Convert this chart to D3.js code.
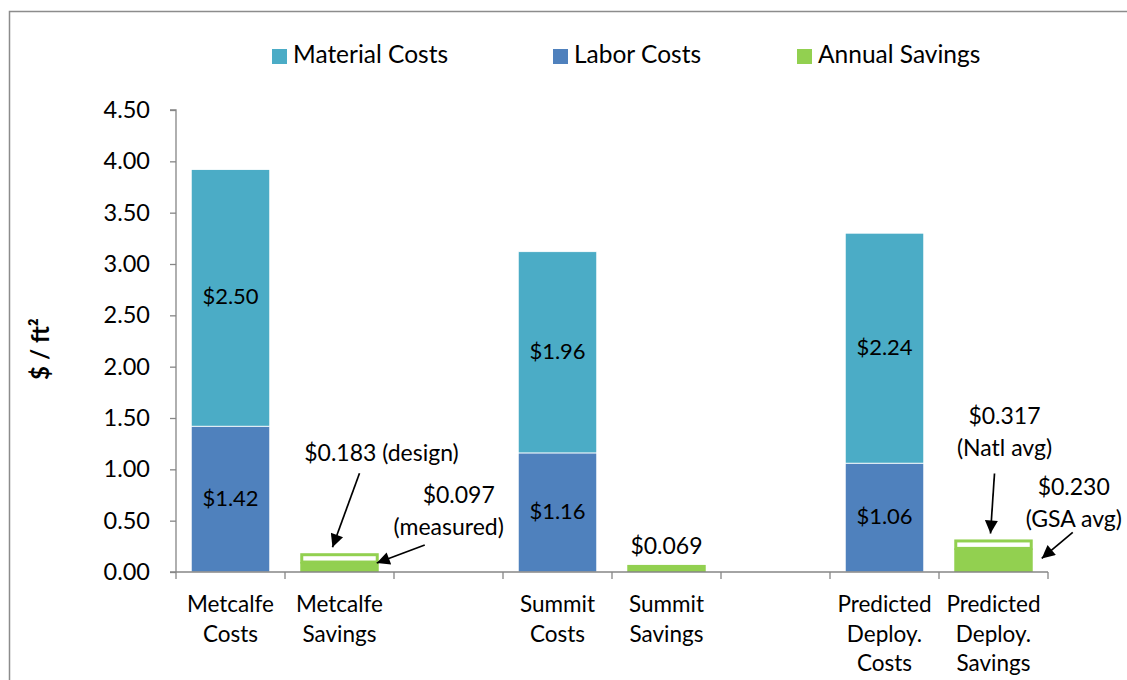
<!DOCTYPE html>
<html>
<head>
<meta charset="utf-8">
<script src="https://cdn.jsdelivr.net/npm/d3@7"></script>
<style>
  html, body { margin: 0; padding: 0; background: #fff; }
  svg { display: block; }
  text { font-family: Lato, "Open Sans", sans-serif; fill: #000; }
</style>
</head>
<body>
<svg id="chart" width="1127" height="680"></svg>
<script>
// Category slots along the x axis (empty slots separate the three sites)
const slots = ["metcalfeCosts", "metcalfeSavings", "gap1", "summitCosts", "summitSavings", "gap2", "predictedCosts", "predictedSavings"];
const slotLabels = [["Metcalfe", "Costs"], ["Metcalfe", "Savings"], [], ["Summit", "Costs"], ["Summit", "Savings"], [], ["Predicted", "Deploy.", "Costs"], ["Predicted", "Deploy.", "Savings"]];

// Installed cost, $ / ft²
const costSlots = ["metcalfeCosts", "summitCosts", "predictedCosts"];
const laborCosts = [1.42, 1.16, 1.06];
const materialCosts = [2.50, 1.96, 2.24];

// Annual savings, $ / ft²
const savingsSlots = ["metcalfeSavings", "summitSavings", "predictedSavings"];
const annualSavings = [0.097, 0.069, 0.230];
const upperSavings = [0.183, null, 0.317];

const yTicks = [0, 0.5, 1.0, 1.5, 2.0, 2.5, 3.0, 3.5, 4.0, 4.5];
const legendItems = ["Material Costs", "Labor Costs", "Annual Savings"];

const colors = { material: "#4BACC6", labor: "#4F81BD", savings: "#92D050", axis: "#868686" };

const svg = d3.select("#chart");

// chart frame
svg.append("rect")
  .attr("x", 9.5).attr("y", 11.5).attr("width", 1140).attr("height", 700)
  .attr("fill", "none").attr("stroke", "#8c8c8c").attr("stroke-width", 1.5);

const plot = { left: 176, right: 1048, top: 110, bottom: 572 };

const x = d3.scaleBand().domain(slots).range([plot.left, plot.right]).paddingInner(0.28).paddingOuter(0.14);
const xSlot = d3.scaleBand().domain(slots).range([plot.left, plot.right]);
const y = d3.scaleLinear().domain([0, 4.5]).range([plot.bottom, plot.top]);
const bw = x.bandwidth();

// y axis
const yAxis = svg.append("g").attr("transform", `translate(${plot.left},0)`)
  .call(d3.axisLeft(y).tickValues(yTicks).tickFormat(d3.format(".2f")).tickSize(6).tickPadding(20));
yAxis.select(".domain").attr("stroke", colors.axis).attr("stroke-width", 1.3).attr("d", `M-6,${plot.top}H0V${plot.bottom}`);
yAxis.selectAll(".tick line").attr("stroke", colors.axis).attr("stroke-width", 1.3);
yAxis.selectAll(".tick text").style("font-size", "23.5px").style("font-family", "Lato, sans-serif").attr("fill", "#000");

svg.append("text")
  .attr("transform", `translate(43,349) rotate(-90)`)
  .attr("text-anchor", "middle").attr("dominant-baseline", "middle")
  .style("font-size", "24px").style("font-weight", "bold")
  .text("$ / ft²");

// stacked cost bars
costSlots.forEach((s, i) => {
  const x0 = x(s);
  const segs = [
    { lo: 0, hi: laborCosts[i], color: colors.labor },
    { lo: laborCosts[i], hi: laborCosts[i] + materialCosts[i], color: colors.material }
  ];
  segs.forEach(seg => {
    svg.append("rect")
      .attr("x", x0).attr("width", bw)
      .attr("y", y(seg.hi)).attr("height", y(seg.lo) - y(seg.hi))
      .attr("fill", seg.color)
      .attr("stroke", "#fff").attr("stroke-width", 0.8);
    svg.append("text")
      .attr("x", x0 + bw / 2).attr("y", y((seg.lo + seg.hi) / 2) + 1)
      .attr("text-anchor", "middle").attr("dominant-baseline", "middle")
      .style("font-size", "22px")
      .text("$" + d3.format(".2f")(seg.hi - seg.lo));
  });
});

// savings bars: measured/average value filled, higher estimate as an outlined box on top
savingsSlots.forEach((s, i) => {
  const x0 = x(s);
  svg.append("rect")
    .attr("x", x0).attr("width", bw)
    .attr("y", y(annualSavings[i])).attr("height", y(0) - y(annualSavings[i]))
    .attr("fill", colors.savings);
  if (upperSavings[i] != null) {
    svg.append("rect")
      .attr("x", x0 + 1.5).attr("width", bw - 3)
      .attr("y", y(upperSavings[i]) + 1.5).attr("height", y(annualSavings[i]) - y(upperSavings[i]) - 1.5)
      .attr("fill", "#fff").attr("stroke", colors.savings).attr("stroke-width", 3);
  }
});

// x axis with slot-boundary ticks
svg.append("line")
  .attr("x1", plot.left - 6).attr("x2", plot.right)
  .attr("y1", plot.bottom).attr("y2", plot.bottom)
  .attr("stroke", colors.axis).attr("stroke-width", 1.3);
slots.concat(["end"]).forEach((s, i) => {
  const xx = i < slots.length ? xSlot(s) : plot.right;
  svg.append("line")
    .attr("x1", xx).attr("x2", xx).attr("y1", plot.bottom).attr("y2", plot.bottom + 7)
    .attr("stroke", colors.axis).attr("stroke-width", 1.3);
});

// category labels
slots.forEach((s, i) => {
  const cx = xSlot(s) + xSlot.bandwidth() / 2;
  const t = svg.append("text").attr("text-anchor", "middle").style("font-size", "22.5px");
  slotLabels[i].forEach((line, j) => {
    t.append("tspan").attr("x", cx).attr("y", 612 + j * 29.7).text(line);
  });
});

// legend
const legendX = [272, 553, 797];
const legendColors = [colors.material, colors.labor, colors.savings];
legendItems.forEach((name, i) => {
  svg.append("rect").attr("x", legendX[i]).attr("y", 49).attr("width", 15).attr("height", 15).attr("fill", legendColors[i]);
  svg.append("text").attr("x", legendX[i] + 21).attr("y", 57).attr("dominant-baseline", "middle")
    .style("font-size", "24.5px").text(name);
});

// annotations
svg.append("defs").append("marker")
  .attr("id", "arrowhead").attr("viewBox", "0 0 10 10").attr("refX", 10).attr("refY", 5)
  .attr("markerWidth", 17).attr("markerHeight", 13).attr("markerUnits", "userSpaceOnUse")
  .attr("orient", "auto")
  .append("path").attr("d", "M0,0L10,5L0,10Z").attr("fill", "#000");

function arrow(x1, y1, x2, y2) {
  svg.append("line").attr("x1", x1).attr("y1", y1).attr("x2", x2).attr("y2", y2)
    .attr("stroke", "#000").attr("stroke-width", 1.7).attr("marker-end", "url(#arrowhead)");
}
function note(cx, cy, lines) {
  const t = svg.append("text").attr("text-anchor", "middle").style("font-size", "23px");
  lines.forEach((line, j) => {
    t.append("tspan").attr("x", cx).attr("y", cy + j * 32).attr("dominant-baseline", "middle").text(line);
  });
}

const fmt3 = v => "$" + d3.format(".3f")(v);

// Metcalfe savings
{
  const x0 = x("metcalfeSavings");
  note(x0 + bw / 2 + 42, y(upperSavings[0]) - 98, [fmt3(upperSavings[0]) + " (design)"]);
  arrow(x0 + bw / 2 + 20, y(upperSavings[0]) - 80, x0 + bw / 2 - 7, y(upperSavings[0]) - 6);
  note(x0 + bw + 80, y(annualSavings[0]) - 65, [fmt3(annualSavings[0])]);
  note(x0 + bw + 70, y(annualSavings[0]) - 65 + 32, ["(measured)"]);
  arrow(x0 + bw + 46, y(annualSavings[0]) - 17, x0 + bw - 2, y(annualSavings[0]) + 1);
}
// Summit savings
{
  const x0 = x("summitSavings");
  note(x0 + bw / 2, y(annualSavings[1]) - 17, [fmt3(annualSavings[1])]);
}
// Predicted deployment savings
{
  const x0 = x("predictedSavings");
  note(x0 + bw / 2 + 11, y(upperSavings[2]) - 121, [fmt3(upperSavings[2]), "(Natl avg)"]);
  arrow(x0 + bw / 2 + 1, y(upperSavings[2]) - 66, x0 + bw / 2 - 3, y(upperSavings[2]) - 6);
  note(x0 + bw + 41, y(annualSavings[2]) - 59, [fmt3(annualSavings[2]), "(GSA avg)"]);
  arrow(x0 + bw + 40, y(annualSavings[2]) - 16, x0 + bw + 9, y(annualSavings[2]) + 10);
}
</script>
</body>
</html>
